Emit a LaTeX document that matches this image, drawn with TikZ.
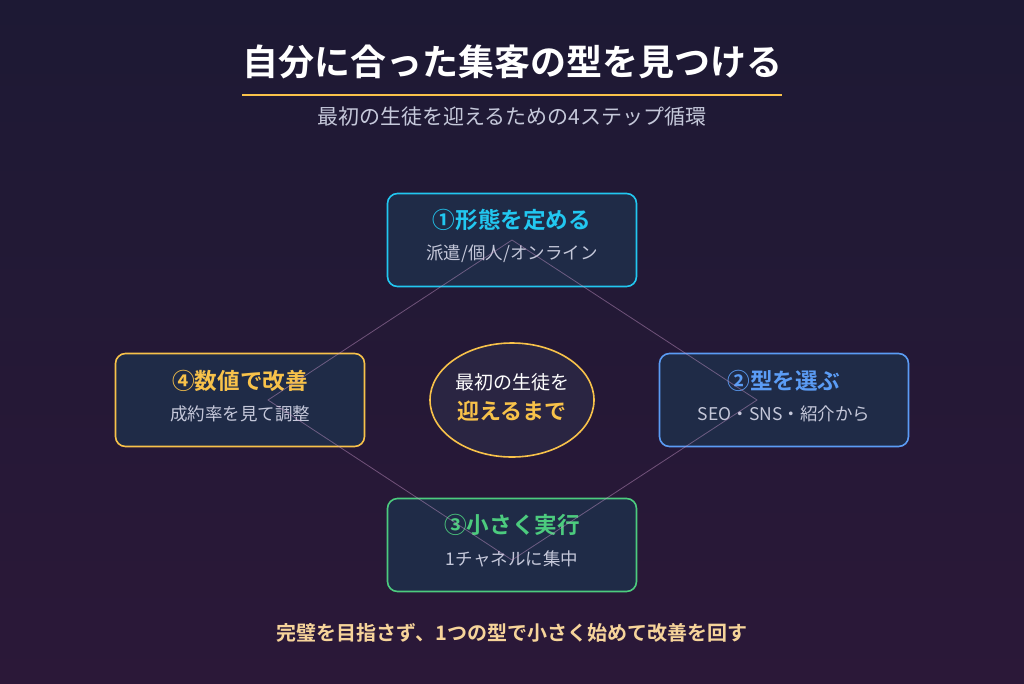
\documentclass[tikz,border=0pt]{standalone}
\usepackage{fontspec}
\setmainfont{Noto Sans CJK JP}
\newfontfamily\jpb{Noto Sans CJK JP Bold}
\usetikzlibrary{shapes.geometric}
\definecolor{bgtop}{HTML}{1D1934}
\definecolor{bgbot}{HTML}{2B1838}
\definecolor{boxfill}{HTML}{1F2B47}
\definecolor{cfill}{HTML}{2A2542}
\definecolor{cyanc}{HTML}{22C7F0}
\definecolor{bluec}{HTML}{5B9CF5}
\definecolor{greenc}{HTML}{4CCB7E}
\definecolor{yelc}{HTML}{F8C24A}
\definecolor{subc}{HTML}{C5C8DA}
\definecolor{footc}{HTML}{F6D49A}
\tikzset{
 stepbox/.style={draw, line width=1.6pt, rounded corners=10pt, fill=boxfill, minimum width=249pt, minimum height=93pt},
 head/.style={font=\jpb\fontsize{22.6}{26}\selectfont},
 sub/.style={font=\fontsize{17.5}{20}\selectfont, text=subc},
 dia/.style={draw=white!60!violet, opacity=0.45, line width=0.8pt}
}
\begin{document}
\begin{tikzpicture}[x=1pt,y=-1pt]
\shade[top color=bgtop,bottom color=bgbot] (0,0) rectangle (1024,683);
\useasboundingbox (0,0) rectangle (1024,683);
\node[font=\jpb\fontsize{36}{40}\selectfont, text=white] (title) at (512,62) {自分に合った集客の型を見つける};
\draw[yelc, line width=2.5pt] (242,95) -- (782,95);
\node[font=\fontsize{21}{24}\selectfont, text=subc] (subt) at (512,117) {最初の生徒を迎えるための4ステップ循環};
\node[stepbox, draw=cyanc] (s1) at (512,240) {};
\node[stepbox, draw=bluec] (s2) at (784,400) {};
\node[stepbox, draw=greenc] (s3) at (512,545) {};
\node[stepbox, draw=yelc] (s4) at (240,400) {};
\node[head, text=cyanc] at (512,220) {①形態を定める};
\node[sub] at (512,254) {派遣/個人/オンライン};
\node[head, text=bluec] at (784,381) {②型を選ぶ};
\node[sub] at (784,414) {SEO・SNS・紹介から};
\node[head, text=greenc] at (512,525) {③小さく実行};
\node[sub] at (512,559) {1チャネルに集中};
\node[head, text=yelc] at (240,381) {④数値で改善};
\node[sub] at (240,414) {成約率を見て調整};
\node[ellipse, draw=yelc, line width=1.6pt, fill=cfill, minimum width=164pt, minimum height=114pt] (c) at (512,400) {};
\node[font=\fontsize{19}{22}\selectfont, text=white] at (512,382) {最初の生徒を};
\node[font=\jpb\fontsize{22}{25}\selectfont, text=yelc] at (512,411) {迎えるまで};
\coordinate (d1) at (512,240);
\coordinate (d2) at (757,400);
\coordinate (d3) at (512,560);
\coordinate (d4) at (268,400);
\draw[dia] (d1) -- (d2) -- (d3) -- (d4) -- cycle;
\node[font=\jpb\fontsize{20}{23}\selectfont, text=footc] (foot) at (512,633) {完璧を目指さず、1つの型で小さく始めて改善を回す};
\end{tikzpicture}
\end{document}
